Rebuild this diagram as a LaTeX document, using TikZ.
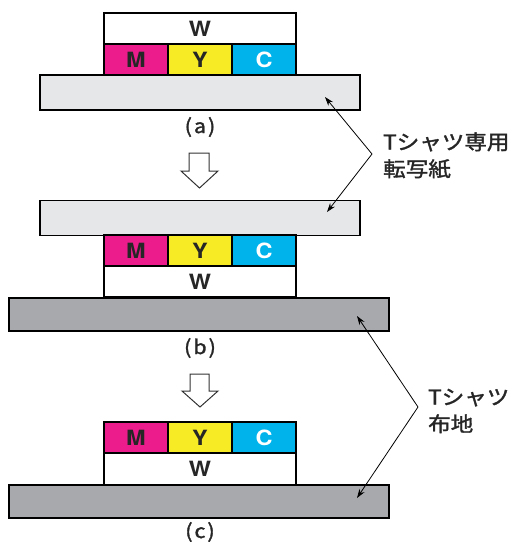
\documentclass[tikz,border=0pt]{standalone}
\usepackage{fontspec}
\setmainfont{TeX Gyre Heros}[FakeStretch=1.12]
\newfontfamily\jp{Noto Sans CJK JP}[FakeStretch=1.1, FakeBold=1.6]
\usetikzlibrary{arrows.meta}
\definecolor{cmag}{HTML}{EC1C8C}
\definecolor{cyel}{HTML}{F6EB24}
\definecolor{ccyan}{HTML}{00B3EB}
\definecolor{paperg}{HTML}{E6E7E8}
\definecolor{fabricg}{HTML}{A7A9AC}
\tikzset{
  layer/.style={draw=black, line width=1.6pt, inner sep=0pt, minimum height=31pt,
    font=\fontsize{21}{21}\selectfont\bfseries, text=black!85},
  mbox/.style={layer, fill=cmag, minimum width=64pt},
  ybox/.style={layer, fill=cyel, minimum width=64pt},
  cbox/.style={layer, fill=ccyan, minimum width=64pt, text=white},
  wbox/.style={layer, fill=white, minimum width=192pt},
  paper/.style={draw=black, line width=1.6pt, fill=paperg, minimum width=320pt, minimum height=35pt, inner sep=0pt},
  fabric/.style={draw=black, line width=1.6pt, fill=fabricg, minimum width=380pt, minimum height=33pt, inner sep=0pt},
  lab/.style={font=\jp\fontsize{19.5}{19.5}\selectfont, text=black!85, inner sep=0pt},
  jplab/.style={font=\jp\fontsize{20.5}{27}\selectfont, text=black!85, align=left, inner sep=0pt, anchor=west},
  callout/.style={line width=0.8pt, -{Stealth[length=9pt,width=6pt]}},
  hollow/.style={draw=black!80, line width=1pt, fill=white, line join=miter}
}
\begin{document}
\begin{tikzpicture}[x=1pt,y=-1pt]
\useasboundingbox (0,0) rectangle (512,542);
% ---- (a)
\node[wbox] (wa) at (200,28.5) {W};
\node[mbox] (ma) at (136,60) {M};
\node[ybox] (ya) at (200,60) {Y};
\node[cbox] (ca) at (264,60) {C};
\node[paper] (pa) at (200,92.5) {};
\node[lab] (la) at (200,127) {(\hspace{2pt}a\hspace{2pt})};
% arrow 1
\draw[hollow] (189,153) -- (209,153) -- (209,171) -- (218,171) -- (199.5,188) -- (181,171) -- (189,171) -- cycle;
% ---- (b)
\node[paper] (pb) at (200,218) {};
\node[mbox] (mb) at (136,250.5) {M};
\node[ybox] (yb) at (200,250.5) {Y};
\node[cbox] (cb) at (264,250.5) {C};
\node[wbox] (wb) at (200,281.5) {W};
\node[fabric] (fb) at (199,314.5) {};
\node[lab] (lb) at (200,348) {(\hspace{2pt}b\hspace{2pt})};
% arrow 2
\draw[hollow] (190,374) -- (209,374) -- (209,391) -- (218,391) -- (200,407) -- (182,391) -- (190,391) -- cycle;
% ---- (c)
\node[mbox] (mc) at (136,437.5) {M};
\node[ybox] (yc) at (200,437.5) {Y};
\node[cbox] (cc) at (264,437.5) {C};
\node[wbox] (wc) at (200,469) {W};
\node[fabric] (fc) at (199,501.5) {};
\node[lab] (lc) at (200,532) {(\hspace{2pt}c\hspace{2pt})};
% ---- callouts
\node[jplab] (t1) at (383,155.5) {Tシャツ専用\\転写紙};
\node[jplab] (t2) at (428,411) {Tシャツ\\布地};
\coordinate (ap1) at (372,154);
\coordinate (tp1a) at (325,97);
\coordinate (tp1b) at (327,212);
\coordinate (ap2) at (418,407);
\coordinate (tp2a) at (357,316);
\coordinate (tp2b) at (357,498);
\draw[callout] (ap1) -- (tp1a);
\draw[callout] (ap1) -- (tp1b);
\draw[callout] (ap2) -- (tp2a);
\draw[callout] (ap2) -- (tp2b);
\end{tikzpicture}
\end{document}
